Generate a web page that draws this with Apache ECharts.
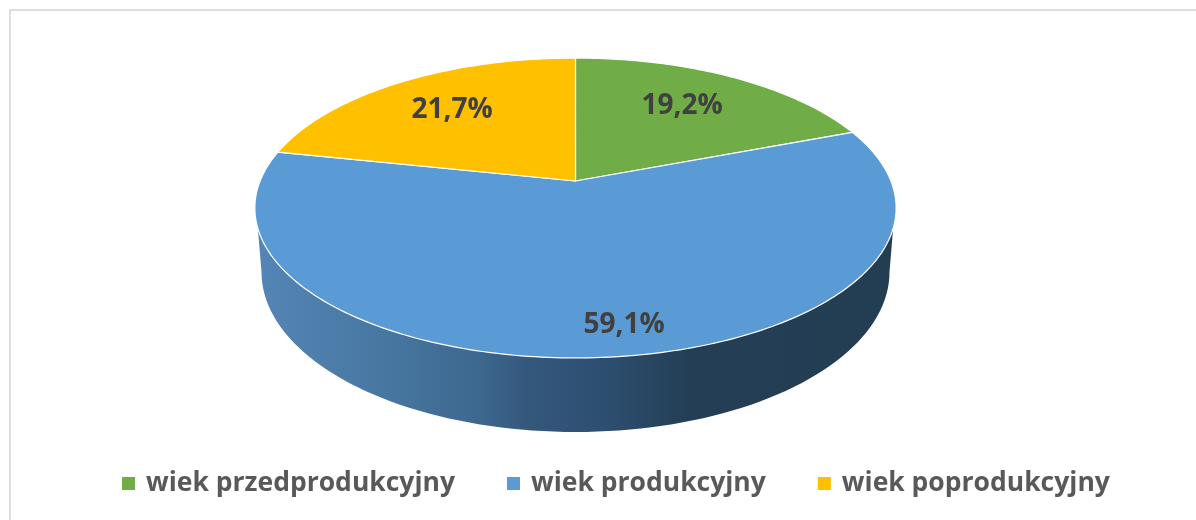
<!DOCTYPE html>
<html>
<head>
<meta charset="utf-8">
<style>
  html, body { margin: 0; padding: 0; background: #fff; }
  #main { width: 1196px; height: 520px; }
</style>
<script src="https://cdn.jsdelivr.net/npm/echarts@6/dist/echarts.min.js"></script>
</head>
<body>
<div id="main"></div>
<script>
// age groups, share of population in %
var groupNames = ['wiek przedprodukcyjny', 'wiek produkcyjny', 'wiek poprodukcyjny'];
var groupShares = [19.2, 59.1, 21.7];

var sliceColors = ['#70ad47', '#5b9bd5', '#ffc000'];
var labelSpots = [[682, 106], [624, 325], [452, 110]];

// the tilted disc: apex of the slices, and how a circle angle lands on screen
var apexX = 575.5, apexY = 181;
var discA = 315.4, discB = 145.1, discP = 0.18;

function rimPoint(deg) {
    var t = deg * Math.PI / 180;
    var d = 1 + discP * Math.cos(t);
    return [apexX + discA * Math.sin(t) / d, apexY - discB * Math.cos(t) / d];
}

function sliceStart(idx) {
    var total = 0, before = 0;
    for (var i = 0; i < groupShares.length; i++) {
        total += groupShares[i];
        if (i < idx) before += groupShares[i];
    }
    return before / total * 360;
}

function renderSlice(params, api) {
    var idx = params.seriesIndex - 1;
    var from = sliceStart(idx);
    var to = from + api.value(0) / 100 * 360;
    var pts = [[apexX, apexY]];
    for (var a = from; a < to; a += 1) pts.push(rimPoint(a));
    pts.push(rimPoint(to));
    return {
        type: 'group',
        children: [{
            type: 'polygon',
            shape: { points: pts },
            style: { fill: api.visual('color'), stroke: '#fff', lineWidth: 1.2, lineJoin: 'round' }
        }, {
            type: 'text',
            z2: 10,
            style: {
                x: labelSpots[idx][0],
                y: labelSpots[idx][1],
                text: api.value(0).toFixed(1).replace('.', ',') + '%',
                fill: '#404040',
                font: 'bold 28px "Open Sans"',
                align: 'center',
                verticalAlign: 'middle'
            }
        }]
    };
}

// side wall under the front of the disc, only the middle slice shows there
function renderWall() {
    var pts = [];
    // rim from right to left
    for (var a = 108; a <= 252; a += 2) pts.push(rimPoint(a));
    // bottom edge from left to right
    for (var b = 0; b <= 180; b += 2) {
        var t = b * Math.PI / 180;
        pts.push([575.5 - 314 * Math.cos(t), 272 + 160 * Math.sin(t)]);
    }
    return {
        type: 'polygon',
        shape: { points: pts },
        style: {
            fill: new echarts.graphic.LinearGradient(0, 0, 1, 0, [
                { offset: 0, color: '#5485b5' },
                { offset: 0.22, color: '#46759f' },
                { offset: 0.35, color: '#3d678e' },
                { offset: 0.42, color: '#34597d' },
                { offset: 0.56, color: '#2c4d6e' },
                { offset: 0.675, color: '#243f55' },
                { offset: 1, color: '#233d53' }
            ])
        }
    };
}

var seriesList = [{
    type: 'custom',
    coordinateSystem: 'none',
    silent: true,
    z: 1,
    renderItem: renderWall,
    data: [0]
}];
groupNames.forEach(function (name, i) {
    seriesList.push({
        name: name,
        type: 'custom',
        coordinateSystem: 'none',
        z: 2,
        itemStyle: { color: sliceColors[i] },
        renderItem: renderSlice,
        data: [[groupShares[i]]]
    });
});

var myChart = echarts.init(document.getElementById('main'), null, { renderer: 'canvas' });
myChart.setOption({
    animation: false,
    backgroundColor: '#fff',
    graphic: [{
        type: 'polyline',
        silent: true,
        shape: { points: [[10, 520], [10, 10], [1196, 10]] },
        style: { stroke: '#dedede', lineWidth: 2, fill: null }
    }],
    legend: {
        left: 117,
        top: 465,
        itemWidth: 13,
        itemHeight: 13,
        itemGap: 52,
        icon: 'rect',
        data: groupNames,
        textStyle: {
            color: '#595959',
            fontFamily: 'Open Sans',
            fontWeight: 'bold',
            fontSize: 26.5,
            padding: [0, 0, 0, 6]
        }
    },
    series: seriesList
});
</script>
</body>
</html>
